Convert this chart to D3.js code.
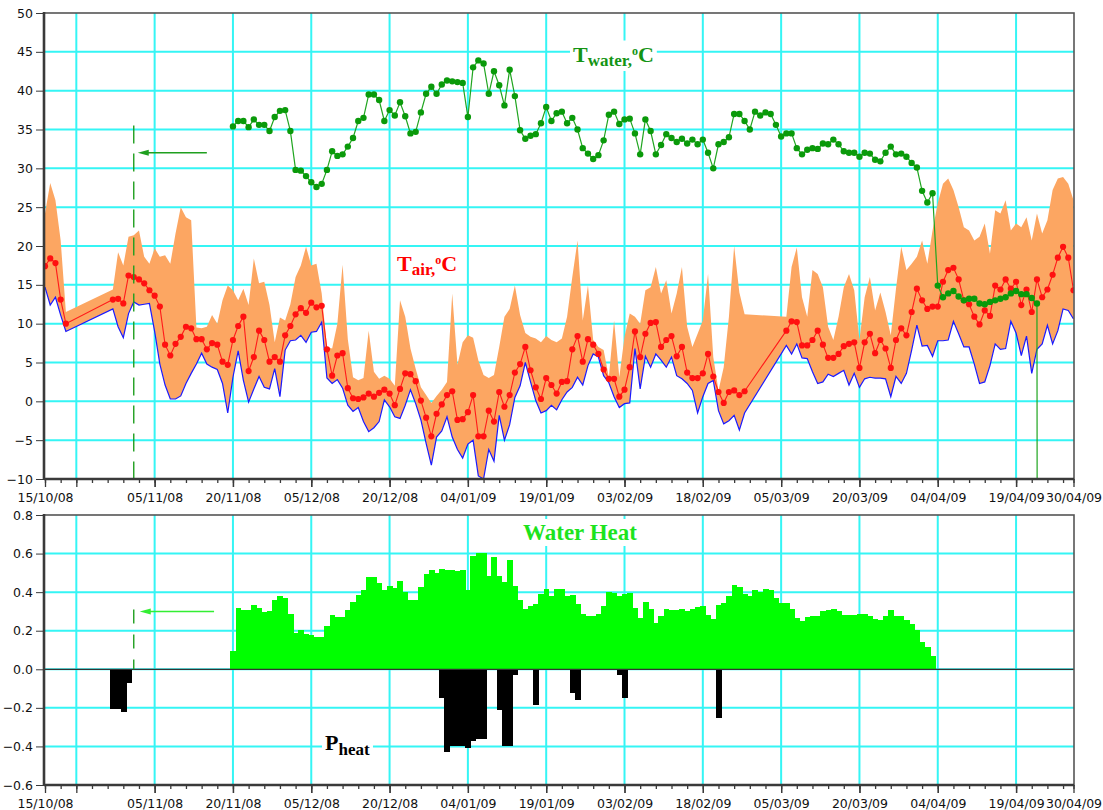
<!DOCTYPE html>
<html>
<head>
<meta charset="utf-8">
<script src="https://cdn.jsdelivr.net/npm/d3@7"></script>
<style>
  html, body { margin: 0; padding: 0; background: #fff; }
  svg { display: block; }
</style>
</head>
<body>
<svg id="chart" width="1103" height="810"></svg>
<script>
// ---- data -------------------------------------------------------------
// Daily air temperature, one entry per day from startDate (null = no reading)
const startDate = "2008-10-15";
const endDate = "2009-04-30";

const airMax = [
  24.2, 28.1, 25.9, 20.7, 11.5,
  null, null, null, null, null, null, null, null,
  14.4, 19.2, 17.5, 21.2, 21.4, 22.0, 18.6, 17.7, 19.7, 18.6,
  18.8, 17.7, 21.6, 25.0, 23.7, 23.3, 9.5, 9.4, 9.6, 11.1,
  10.0, 13.0, 14.9, 14.3, 13.0, 14.5, 12.4, 18.4, 15.2, 15.4,
  12.4, 7.6, 10.8, 10.4, 12.5, 16.0, 17.5, 19.9, 17.5, 17.7,
  13.9, 7.0, 6.8, 10.0, 17.6, 8.0, 3.1, 2.7, 3.0, 9.1,
  3.8, 2.9, 3.3, 2.9, 2.0, 13.0, 10.9, 6.8, 4.2, 1.8,
  0.8, -0.2, 0.7, 1.5, 2.5, 13.9, 4.7, 7.6, 8.5, 8.2,
  5.3, 3.4, 3.0, 3.4, 7.0, 10.9, 11.9, 14.9, 11.1, 8.8,
  8.3, 8.1, 7.6, 8.4, 7.9, 7.6, 8.1, 10.9, 16.0, 20.7,
  10.4, 14.9, 7.9, 7.0, 6.6, 3.1, 10.4, 3.1, 8.3, 11.3,
  10.9, 10.0, 14.3, 14.7, 17.3, 13.9, 15.6, 11.3, 13.9, 17.3,
  9.6, 7.0, 8.7, 10.4, 16.4, 5.7, 1.4, 4.4, 10.9, 20.0,
  14.0, 11.2,
  null, null, null, null, null, null, null,
  10.9, 17.3, 19.8, 13.4, 10.9, 16.9, 16.4, 14.7, 9.6, 7.9,
  10.9, 14.7, 16.4, 14.3, 7.9, 13.4, 16.0, 11.7, 14.0, 11.5,
  8.5, 14.5, 19.9, 16.9, 17.7, 18.6, 20.7, 17.7, 22.0, 25.5,
  28.0, 28.7, 27.2, 25.0, 22.4, 22.0, 20.7, 21.2, 22.9, 19.0,
  24.6, 24.2, 25.9, 22.0, 22.9, 22.4, 23.7, 20.7, 24.2, 21.6,
  23.3, 27.2, 28.7, 28.9, 28.0, 25.9
];

const airMean = [
  17.4, 18.4, 17.8, 13.1, 10.0,
  null, null, null, null, null, null, null, null,
  13.1, 13.2, 12.6, 16.2, 16.0, 15.7, 15.2, 14.3, 13.6, 12.2,
  7.3, 5.9, 7.4, 8.3, 9.6, 9.4, 8.0, 8.0, 6.7, 7.5,
  7.3, 5.1, 4.7, 7.9, 9.7, 10.9, 3.9, 5.7, 9.1, 7.9,
  5.1, 5.7, 5.1, 8.5, 9.7, 11.2, 12.0, 11.4, 12.7, 12.1,
  12.3, 6.7, 3.3, 5.9, 6.2, 1.7, 0.4, 0.3, 0.5, 1.0,
  0.6, 1.1, 1.5, 1.0, -0.5, 1.6, 3.6, 3.5, 2.6, 0.1,
  -2.1, -4.5, -1.6, -0.4, 0.8, 1.3, -2.4, -2.3, -1.4, 0.8,
  -4.5, -4.5, -1.2, -2.6, 1.2, -0.7, 0.8, 3.7, 4.8, 7.0,
  4.0, 1.8, 0.3, 3.0, 2.1, 1.0, 2.5, 2.6, 6.7, 8.4,
  5.1, 8.0, 7.3, 6.1, 4.1, 2.9, 2.9, 0.6, 1.5, 4.4,
  9.0, 5.7, 8.7, 10.1, 10.2, 7.0, 7.9, 8.4, 5.8, 7.0,
  3.7, 3.0, 3.0, 3.6, 6.1, 3.2, 1.2, -0.2, 1.2, 1.4,
  0.8, 1.3,
  null, null, null, null, null, null, null,
  9.1, 10.3, 10.2, 7.2, 7.2, 7.9, 9.1, 7.3, 5.6, 5.6,
  6.1, 7.1, 7.4, 7.6, 4.3, 7.6, 8.7, 6.2, 7.9, 6.8,
  4.3, 7.9, 9.4, 8.5, 11.5, 14.5, 13.0, 11.9, 12.2, 12.2,
  15.4, 16.9, 17.2, 15.7, 13.0, 12.5, 10.9, 9.9, 11.7, 11.0,
  14.9, 14.4, 15.7, 14.5, 15.4, 12.4, 14.4, 11.5, 15.7, 13.4,
  14.4, 16.3, 18.5, 19.9, 18.5, 14.3
];

const airMin = [
  14.7, 12.4, 13.4, 11.1, 9.0,
  null, null, null, null, null, null, null, null,
  11.9, 9.6, 8.2, 11.3, 12.8, 12.4, 12.5, 12.6, 9.0, 4.8,
  2.1, 0.3, 0.3, 0.7, 2.3, 3.6, 4.8, 6.2, 4.8, 4.4,
  4.1, 2.3, -1.5, 3.1, 6.5, 2.7, -0.1, 1.6, 3.2, 1.8,
  1.6, 4.2, 0.6, 6.6, 7.8, 7.9, 8.5, 7.6, 8.9, 9.0,
  10.2, 3.0, 2.3, 2.8, 1.7, -0.5, -1.3, -0.8, -2.6, -3.9,
  -3.4, -2.6, 0.2, -0.7, -2.0, -2.2, -0.5, 1.5, -0.3, -2.4,
  -5.4, -8.2, -4.6, -3.8, -2.0, -4.6, -6.2, -7.3, -5.5, -5.0,
  -9.6, -10.0, -6.2, -7.7, -1.8, -5.0, -3.0, 0.5, 2.0, 5.0,
  2.5, 0.1, -1.5, -1.2, -0.5, -1.1, 0.2, 1.2, 1.8, 3.1,
  2.1, 4.6, 6.1, 5.7, 3.3, 2.4, 0.6, -0.8, -0.3, -0.2,
  6.8, 1.6, 5.8, 4.4, 6.1, 5.3, 4.4, 5.7, 3.3, 2.9,
  2.3, 1.4, -1.5, 0.6, 2.3, 2.7, -1.2, -2.9, -2.5, -1.8,
  -3.7, -1.5,
  null, null, null, null, null, null, null,
  7.2, 6.1, 7.4, 5.6, 5.5, 3.8, 2.3, 2.5, 3.5, 3.2,
  3.6, 4.0, 2.1, 3.6, 1.8, 2.9, 3.1, 3.0, 3.0, 2.9,
  0.6, 3.2, 2.3, 3.6, 6.6, 9.8, 7.1, 7.2, 5.8, 7.8,
  7.8, 7.9, 10.3, 8.7, 7.0, 7.0, 4.8, 2.3, 2.5, 4.6,
  7.4, 6.7, 6.8, 10.3, 8.8, 5.9, 8.4, 3.6, 6.7, 7.4,
  9.8, 7.4, 9.1, 11.9, 11.7, 10.6
];

// Daily water temperature from waterStart
const waterStart = "2008-11-20";
const waterTemp = [
  35.4, 36.1, 36.1, 35.3, 36.3, 35.6, 35.6, 34.8, 36.6, 37.4,
  37.5, 34.8, 29.8, 29.7, 29.0, 28.2, 27.6, 28.0, 29.8, 32.2,
  31.6, 31.8, 32.8, 33.9, 36.1, 36.5, 39.5, 39.5, 38.8, 36.1,
  37.5, 36.8, 38.5, 36.7, 34.5, 34.7, 37.2, 39.6, 40.5, 39.6,
  40.8, 41.3, 41.2, 41.1, 41.0, 36.6, 43.0, 43.9, 43.5, 39.6,
  42.5, 40.7, 38.1, 42.7, 39.3, 34.9, 33.8, 34.2, 34.4, 35.8,
  37.9, 36.1, 37.1, 37.3, 35.8, 36.5, 35.0, 32.6, 31.9, 31.2,
  31.7, 33.6, 36.9, 37.3, 35.7, 36.3, 36.4, 34.5, 31.8, 36.3,
  34.8, 31.8, 33.0, 34.4, 33.9, 33.4, 33.8, 33.2, 33.7, 33.1,
  33.7, 32.0, 30.0, 33.1, 33.4, 34.0, 37.0, 37.0, 36.1, 35.0,
  37.3, 36.8, 37.2, 37.0, 35.6, 34.1, 34.5, 34.5, 32.6, 31.8,
  32.4, 32.6, 32.5, 33.2, 33.1, 33.7, 33.1, 32.2, 32.0, 32.0,
  31.5, 32.0, 31.9, 31.1, 30.9, 32.0, 32.8, 31.8, 31.9, 31.5,
  30.7, 30.1, 27.1, 25.6, 26.8, 14.9, 13.4, 13.9, 14.2, 13.5,
  13.0, 13.2, 13.2, 12.6, 12.5, 12.8, 13.0, 13.2, 13.4, 13.9,
  14.2, 13.8, 13.8, 13.3, 12.6
];
// sensor pulled out after the last reading: trace falls off the scale
const waterProbeOut = -16;

// Daily water heat from heatStart
const heatStart = "2008-11-20";
const waterHeat = [
  0.095, 0.32, 0.31, 0.31, 0.335, 0.32, 0.295, 0.30, 0.357, 0.378,
  0.37, 0.288, 0.187, 0.205, 0.184, 0.179, 0.167, 0.167, 0.222, 0.283,
  0.27, 0.27, 0.31, 0.35, 0.386, 0.41, 0.48, 0.48, 0.45, 0.41,
  0.43, 0.42, 0.46, 0.40, 0.357, 0.357, 0.426, 0.495, 0.516, 0.498,
  0.519, 0.516, 0.516, 0.512, 0.516, 0.412, 0.585, 0.602, 0.602, 0.486,
  0.581, 0.486, 0.455, 0.568, 0.433, 0.36, 0.314, 0.329, 0.338, 0.391,
  0.417, 0.378, 0.417, 0.417, 0.381, 0.386, 0.338, 0.288, 0.277, 0.277,
  0.288, 0.329, 0.403, 0.395, 0.378, 0.39, 0.398, 0.32, 0.265, 0.351,
  0.312, 0.239, 0.274, 0.312, 0.305, 0.305, 0.312, 0.303, 0.314, 0.322,
  0.329, 0.283, 0.26, 0.331, 0.346, 0.38, 0.438, 0.426, 0.391, 0.378,
  0.412, 0.403, 0.417, 0.409, 0.369, 0.343, 0.343, 0.314, 0.265, 0.248,
  0.269, 0.274, 0.274, 0.30, 0.308, 0.314, 0.30, 0.283, 0.283, 0.283,
  0.288, 0.288, 0.274, 0.26, 0.253, 0.274, 0.308, 0.274, 0.274, 0.257,
  0.234, 0.205, 0.144, 0.118, 0.07
];

// Heating power drawn on individual days
const pHeatDates = [
  "2008-10-28", "2008-10-29", "2008-10-30", "2008-10-31",
  "2008-12-30", "2008-12-31", "2009-01-01", "2009-01-02", "2009-01-03",
  "2009-01-04", "2009-01-05", "2009-01-06", "2009-01-07",
  "2009-01-10", "2009-01-11", "2009-01-12", "2009-01-13",
  "2009-01-17", "2009-01-24", "2009-01-25", "2009-02-02", "2009-02-03",
  "2009-02-21"
];
const pHeat = [
  -0.205, -0.205, -0.224, -0.072,
  -0.149, -0.43, -0.40, -0.40, -0.40,
  -0.41, -0.37, -0.36, -0.36,
  -0.21, -0.40, -0.40, -0.032,
  -0.184, -0.124, -0.161, -0.032, -0.15,
  -0.253
];

// Axis ticks
const xLabelDates = [
  "2008-10-15", "2008-11-05", "2008-11-20", "2008-12-05", "2008-12-20",
  "2009-01-04", "2009-01-19", "2009-02-03", "2009-02-18", "2009-03-05",
  "2009-03-20", "2009-04-04", "2009-04-19", "2009-04-30"
];
const tempTicks = [-10, -5, 0, 5, 10, 15, 20, 25, 30, 35, 40, 45, 50];
const heatTicks = [-0.6, -0.4, -0.2, 0, 0.2, 0.4, 0.6, 0.8];

// ---- scales -----------------------------------------------------------
const parse = d3.utcParse("%Y-%m-%d");
const t0 = parse(startDate), t1 = parse(endDate);
const dayAt = (base, i) => d3.utcDay.offset(base, i);

const L = 44, R = 1074;
const x = d3.scaleUtc().domain([t0, t1]).range([45, 1073.5]);
const yT = d3.scaleLinear().domain([-10, 50]).range([479, 13]);
const yB = d3.scaleLinear().domain([-0.6, 0.8]).range([785, 515]);

const GRID = "#35f5f5";
const FRAME = "#3a3a3a";
const tickFont = "'DejaVu Sans', Verdana, sans-serif";
const serif = "'Liberation Serif', 'Times New Roman', serif";

const gridDates = d3.utcDay.range(parse("2008-10-21"), t1, 15);
const minorDates = d3.utcDay.range(t0, t1, 3).concat([t1]);
const fmtDate = d3.utcFormat("%d/%m/%y");

const svg = d3.select("#chart");

// ---- shared frame: grid, axes, border --------------------------------
function drawGrid(y, ticks) {
  const [yBottom, yTop] = y.range();
  const g = svg.append("g");
  g.selectAll("line.h").data(ticks.slice(1, -1)).join("line")
    .attr("x1", L).attr("x2", R)
    .attr("y1", d => y(d)).attr("y2", d => y(d))
    .attr("stroke", GRID).attr("stroke-width", 2);
  g.selectAll("line.v").data(gridDates).join("line")
    .attr("x1", d => x(d)).attr("x2", d => x(d))
    .attr("y1", yTop).attr("y2", yBottom)
    .attr("stroke", GRID).attr("stroke-width", 2);
}

function drawAxes(y, ticks, fmt) {
  const [yBottom, yTop] = y.range();
  svg.append("rect").attr("x", L).attr("y", yTop).attr("width", R - L).attr("height", yBottom - yTop)
    .attr("fill", "none").attr("stroke", "#555").attr("stroke-width", 1.6);
  const ya = svg.append("g").attr("transform", `translate(${L},0)`)
    .call(d3.axisLeft(y).tickValues(ticks).tickFormat(fmt).tickSize(8).tickPadding(3));
  ya.select(".domain").remove();
  ya.selectAll("line").attr("stroke", FRAME);
  ya.selectAll("text").attr("font-family", tickFont).attr("font-size", 12.5).attr("fill", "#111");
  const xg = svg.append("g").attr("transform", `translate(0,${yBottom})`);
  xg.append("g").call(d3.axisBottom(x).tickValues(minorDates).tickSize(4).tickFormat(""));
  xg.append("g").call(d3.axisBottom(x).tickValues(gridDates).tickSize(8).tickFormat(""));
  const labels = xg.append("g").call(d3.axisBottom(x).tickValues(xLabelDates.map(parse))
    .tickSize(8).tickPadding(6).tickFormat(fmtDate));
  xg.selectAll(".domain").remove();
  xg.selectAll("line").attr("stroke", FRAME).attr("stroke-width", 1.3);
  labels.selectAll("text").attr("font-family", tickFont).attr("font-size", 12.5).attr("fill", "#111");
  svg.append("line").attr("x1", L).attr("x2", L).attr("y1", yTop - 1).attr("y2", yBottom + 1)
    .attr("stroke", FRAME).attr("stroke-width", 2.6);
  svg.append("line").attr("x1", L).attr("x2", R).attr("y1", yBottom).attr("y2", yBottom)
    .attr("stroke", FRAME).attr("stroke-width", 2.4);
}

function clip(id, y) {
  const [yBottom, yTop] = y.range();
  svg.append("clipPath").attr("id", id).append("rect")
    .attr("x", L).attr("y", yTop).attr("width", R - L).attr("height", yBottom - yTop);
}

function boxedLabel(px, py, parts, color) {
  const g = svg.append("g");
  const bg = g.append("rect").attr("fill", "#fff");
  const t = g.append("text").attr("x", px).attr("y", py).attr("fill", color)
    .attr("font-family", serif).attr("font-weight", "bold");
  parts.forEach(p => t.append("tspan").attr("font-size", p.size).attr("dy", p.dy || 0).text(p.text));
  const bb = t.node().getBBox();
  bg.attr("x", bb.x - 3).attr("y", bb.y - 1).attr("width", bb.width + 6).attr("height", bb.height + 2);
}

function arrow(x1, x2, yy, color) {
  svg.append("line").attr("x1", x1).attr("x2", x2 + 6).attr("y1", yy).attr("y2", yy)
    .attr("stroke", color).attr("stroke-width", 1.4);
  svg.append("path")
    .attr("d", `M${x2},${yy} L${x2 + 11},${yy - 3} L${x2 + 11},${yy + 3} Z`)
    .attr("fill", color);
}

// ---- top panel: temperatures ----------------------------------------
drawGrid(yT, tempTicks);
clip("clipTop", yT);

const air = airMean.map((m, i) => ({ date: dayAt(t0, i), mean: m, min: airMin[i], max: airMax[i] }))
  .filter(d => d.mean !== null);
const water = waterTemp.map((v, i) => ({ date: dayAt(parse(waterStart), i), value: v }));
const lastWater = water[water.length - 1];
const waterTrace = water.concat([{ date: d3.utcHour.offset(lastWater.date, 1), value: waterProbeOut }]);

const topPanel = svg.append("g").attr("clip-path", "url(#clipTop)");

topPanel.append("path").datum(air)
  .attr("d", d3.area().x(d => x(d.date)).y0(d => yT(d.min)).y1(d => yT(d.max)))
  .attr("fill", "#fca662");

topPanel.append("path").datum(air)
  .attr("d", d3.line().x(d => x(d.date)).y(d => yT(d.min)))
  .attr("fill", "none").attr("stroke", "#1a1aff").attr("stroke-width", 1.2);

topPanel.append("path").datum(air)
  .attr("d", d3.line().x(d => x(d.date)).y(d => yT(d.mean)))
  .attr("fill", "none").attr("stroke", "#ff1a1a").attr("stroke-width", 1.1);
topPanel.selectAll("circle.mean").data(air).join("circle")
  .attr("cx", d => x(d.date)).attr("cy", d => yT(d.mean)).attr("r", 3.1)
  .attr("fill", "#ff1010");

topPanel.append("path").datum(waterTrace)
  .attr("d", d3.line().x(d => x(d.date)).y(d => yT(d.value)))
  .attr("fill", "none").attr("stroke", "#1fa51f").attr("stroke-width", 1.2);
topPanel.selectAll("circle.water").data(water).join("circle")
  .attr("cx", d => x(d.date)).attr("cy", d => yT(d.value)).attr("r", 3.2)
  .attr("fill", "#0a9a0a");

// marker: start of heating
const markDate = parse("2008-11-01");
svg.append("line").attr("x1", x(markDate)).attr("x2", x(markDate))
  .attr("y1", yT(35.5)).attr("y2", yT(-10))
  .attr("stroke", "#1f9f1f").attr("stroke-width", 1.4).attr("stroke-dasharray", "18,10");
arrow(x(parse("2008-11-15")), x(markDate) + 4, yT(32), "#1f9f1f");

boxedLabel(573, 61.5, [
  { text: "T", size: 22 },
  { text: "water,", size: 17, dy: 4.5 },
  { text: "o", size: 12, dy: -11 },
  { text: "C", size: 22, dy: 6.5 }
], "#149414");

boxedLabel(397, 270.5, [
  { text: "T", size: 22 },
  { text: "air,", size: 17, dy: 4.5 },
  { text: "o", size: 12, dy: -11 },
  { text: "C", size: 22, dy: 6.5 }
], "#ff0000");

drawAxes(yT, tempTicks, d3.format("d"));

// ---- bottom panel: heat -----------------------------------------------
drawGrid(yB, heatTicks);
clip("clipBot", yB);

const bw = x(dayAt(t0, 1)) - x(t0);
const heat = waterHeat.map((v, i) => ({ date: dayAt(parse(heatStart), i), value: v }));
const pwr = pHeat.map((v, i) => ({ date: parse(pHeatDates[i]), value: v }));

const botPanel = svg.append("g").attr("clip-path", "url(#clipBot)");
botPanel.selectAll("rect.heat").data(heat).join("rect")
  .attr("x", d => x(d.date) - bw / 2).attr("width", bw + 0.6)
  .attr("y", d => yB(d.value)).attr("height", d => yB(0) - yB(d.value))
  .attr("fill", "#00ff00").attr("shape-rendering", "crispEdges");
botPanel.selectAll("rect.pwr").data(pwr).join("rect")
  .attr("x", d => x(d.date) - bw / 2).attr("width", bw + 0.6)
  .attr("y", yB(0)).attr("height", d => yB(d.value) - yB(0))
  .attr("fill", "#000").attr("shape-rendering", "crispEdges");

svg.append("line").attr("x1", L).attr("x2", R).attr("y1", yB(0)).attr("y2", yB(0))
  .attr("stroke", "#333").attr("stroke-width", 1.3);

svg.append("line").attr("x1", x(markDate)).attr("x2", x(markDate))
  .attr("y1", yB(0.31)).attr("y2", yB(0))
  .attr("stroke", "#1f9f1f").attr("stroke-width", 1.4).attr("stroke-dasharray", "14,11");
arrow(x(parse("2008-11-16")) + 2, x(markDate) + 6, yB(0.3), "#33ee33");

boxedLabel(523, 540, [{ text: "Water Heat", size: 23 }], "#1de31d");
boxedLabel(325, 750, [
  { text: "P", size: 22 },
  { text: "heat", size: 17, dy: 5 }
], "#000");

drawAxes(yB, heatTicks, d3.format(".1f"));
</script>
</body>
</html>
